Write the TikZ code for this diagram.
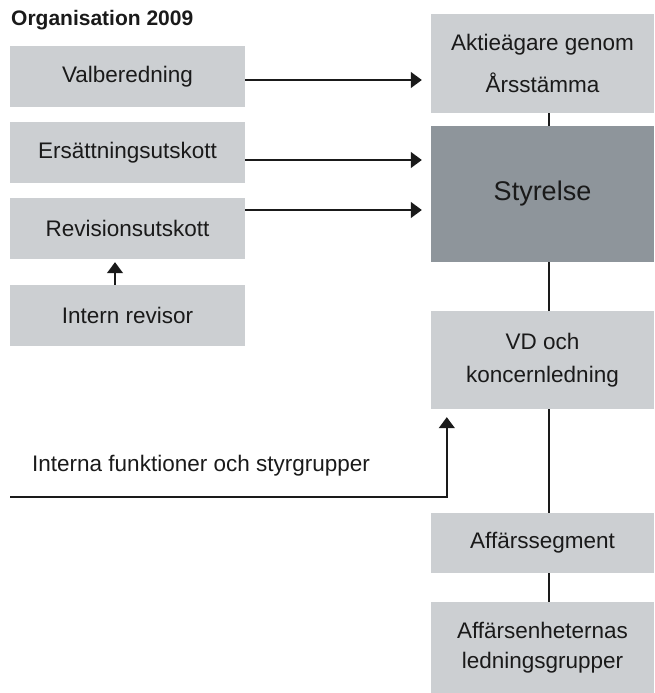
\documentclass[tikz,border=0pt]{standalone}
\usepackage{fontspec}
\setmainfont{Liberation Sans}
\usetikzlibrary{arrows.meta}
\definecolor{boxlight}{HTML}{CCCFD2}
\definecolor{boxdark}{HTML}{8E959B}
\definecolor{ink}{HTML}{1A1A1A}
\begin{document}
\begin{tikzpicture}[x=1pt,y=-1pt,
  box/.style={fill=boxlight, draw=none, inner sep=0pt, align=center, text=ink,
    font=\fontsize{22.5}{30}\selectfont},
  leftbox/.style={box, minimum width=235pt, minimum height=61pt},
  rightbox/.style={box, minimum width=223pt},
  arr/.style={draw=ink, line width=1.5pt, -{Triangle[length=11pt,width=16pt]}},
  link/.style={draw=ink, line width=1.5pt}
]
\useasboundingbox (0,0) rectangle (654,693);

\node[anchor=base west, font=\fontsize{21}{24}\selectfont\bfseries, text=ink, inner sep=0pt] (title) at (11,26) {Organisation 2009};

\node[leftbox] (valb) at (127.5,76.5) {Valberedning};
\node[leftbox] (ers) at (127.5,152.5) {Ersättningsutskott};
\node[leftbox] (rev) at (127.5,228.5) {Revisionsutskott};
\node[leftbox] (intern) at (127.5,315.5) {Intern revisor};

\node[rightbox, minimum height=99pt, font=\fontsize{22.5}{42}\selectfont] (aktie) at (542.5,63.5) {Aktieägare genom\\Årsstämma};
\node[rightbox, minimum height=136pt, fill=boxdark, font=\fontsize{27}{32}\selectfont] (styr) at (542.5,194) {Styrelse};
\node[rightbox, minimum height=98pt, font=\fontsize{22.5}{33}\selectfont] (vd) at (542.5,360) {VD och\\koncernledning};
\node[rightbox, minimum height=60pt] (seg) at (542.5,543) {Affärssegment};
\node[rightbox, minimum height=91pt, font=\fontsize{22.5}{30}\selectfont] (enh) at (542.5,647.5) {Affärsenheternas\\ledningsgrupper};

\node[anchor=base west, inner sep=0pt, text=ink, font=\fontsize{22.5}{30}\selectfont] (intlabel) at (32,471) {Interna funktioner och styrgrupper};

% arrows from committees
\draw[arr, shorten >=9pt] ([yshift=-3.5pt]valb.east) -- ([yshift=-3.5pt]valb.east -| aktie.west);
\draw[arr, shorten >=9pt] ([yshift=-7.5pt]ers.east) -- ([yshift=-7.5pt]ers.east -| styr.west);
\draw[arr, shorten >=9pt] ([yshift=18.5pt]rev.east) -- ([yshift=18.5pt]rev.east -| styr.west);
\draw[arr, shorten >=3pt] ([xshift=-12.5pt]intern.north) -- ([xshift=-12.5pt]rev.south);

% internal functions
\coordinate (ifstart) at (10,497);
\draw[arr, shorten >=8pt] (ifstart) -| ([xshift=16pt]vd.south west);

% vertical chain
\draw[link] ([xshift=6.5pt]aktie.south) -- ([xshift=6.5pt]styr.north);
\draw[link] ([xshift=6.5pt]styr.south) -- ([xshift=6.5pt]vd.north);
\draw[link] ([xshift=6.5pt]vd.south) -- ([xshift=6.5pt]seg.north);
\draw[link] ([xshift=6.5pt]seg.south) -- ([xshift=6.5pt]enh.north);
\end{tikzpicture}
\end{document}
